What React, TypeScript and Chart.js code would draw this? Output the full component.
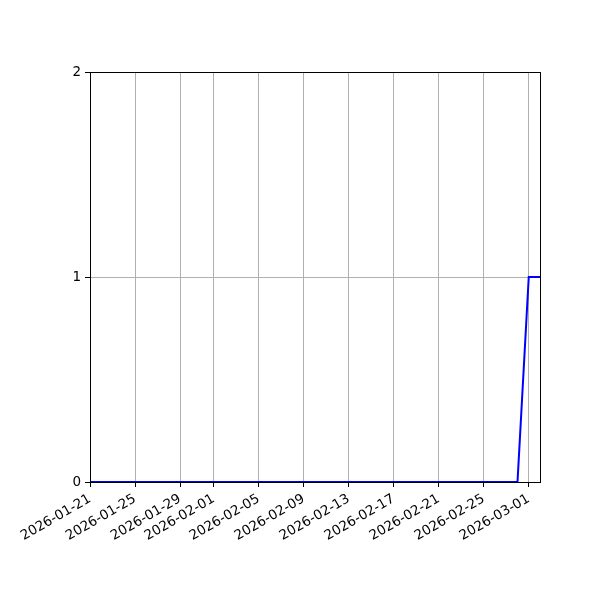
import React, { useEffect, useRef } from "react";
import { Chart, registerables } from "chart.js";

Chart.register(...registerables);

// Days since 2026-01-21
const dayOffsets = Array.from({ length: 41 }, (_, i) => i);
const counts = [
  0, 0, 0, 0, 0, 0, 0, 0, 0, 0,
  0, 0, 0, 0, 0, 0, 0, 0, 0, 0,
  0, 0, 0, 0, 0, 0, 0, 0, 0, 0,
  0, 0, 0, 0, 0, 0, 0, 0, 0, 1,
  1,
];
const xTickValues = [0, 4, 8, 11, 15, 19, 23, 27, 31, 35, 39];
const xTickLabels = [
  "2026-01-21",
  "2026-01-25",
  "2026-01-29",
  "2026-02-01",
  "2026-02-05",
  "2026-02-09",
  "2026-02-13",
  "2026-02-17",
  "2026-02-21",
  "2026-02-25",
  "2026-03-01",
];
const yTickValues = [0, 1, 2];

const framePlugin = {
  id: "frame",
  afterDraw(chart: any) {
    const { ctx, chartArea } = chart;
    ctx.save();
    ctx.strokeStyle = "#000";
    ctx.lineWidth = 1;
    ctx.strokeRect(
      Math.round(chartArea.left) + 0.5,
      Math.round(chartArea.top) + 0.5,
      Math.round(chartArea.right - chartArea.left),
      Math.round(chartArea.bottom - chartArea.top)
    );
    ctx.restore();
  },
};

export default function App() {
  const ref = useRef<HTMLCanvasElement | null>(null);
  useEffect(() => {
    document.body.style.margin = "0";
    const font = { family: "DejaVu Sans", size: 13.5 };
    const chart = new Chart(ref.current!, {
      type: "line",
      data: {
        datasets: [
          {
            data: dayOffsets.map((d, i) => ({ x: d, y: counts[i] })),
            borderColor: "#0000ff",
            borderWidth: 2,
            pointRadius: 0,
            tension: 0,
            fill: false,
          },
        ],
      },
      options: {
        animation: false,
        responsive: false,
        maintainAspectRatio: false,
        layout: { padding: { left: 0, top: 72, right: 60, bottom: 0 } },
        plugins: { legend: { display: false }, tooltip: { enabled: false } },
        scales: {
          x: {
            type: "linear",
            min: 0,
            max: 40,
            afterBuildTicks: (scale: any) => {
              scale.ticks = xTickValues.map((v) => ({ value: v }));
            },
            afterFit: (scale: any) => {
              scale.height = 118;
            },
            ticks: {
              autoSkip: false,
              maxRotation: 30,
              minRotation: 30,
              color: "#000",
              font,
              padding: 4,
              callback: (v: any) => {
                const idx = xTickValues.indexOf(Number(v));
                return idx >= 0 ? xTickLabels[idx] : "";
              },
            },
            grid: {
              color: "#b0b0b0",
              lineWidth: 1,
              drawTicks: true,
              tickLength: 5,
              tickColor: "#000",
            },
            border: { display: true, color: "#000", width: 1 },
          },
          y: {
            type: "linear",
            min: 0,
            max: 2,
            afterBuildTicks: (scale: any) => {
              scale.ticks = yTickValues.map((v) => ({ value: v }));
            },
            afterFit: (scale: any) => {
              scale.width = 90;
            },
            ticks: { color: "#000", font, padding: 4 },
            grid: {
              color: "#b0b0b0",
              lineWidth: 1,
              drawTicks: true,
              tickLength: 5,
              tickColor: "#000",
            },
            border: { display: true, color: "#000", width: 1 },
          },
        },
      },
      plugins: [framePlugin],
    });
    return () => chart.destroy();
  }, []);
  return (
    <div style={{ width: 600, height: 600, background: "#fff" }}>
      <canvas ref={ref} width={600} height={600} style={{ display: "block" }} />
    </div>
  );
}
